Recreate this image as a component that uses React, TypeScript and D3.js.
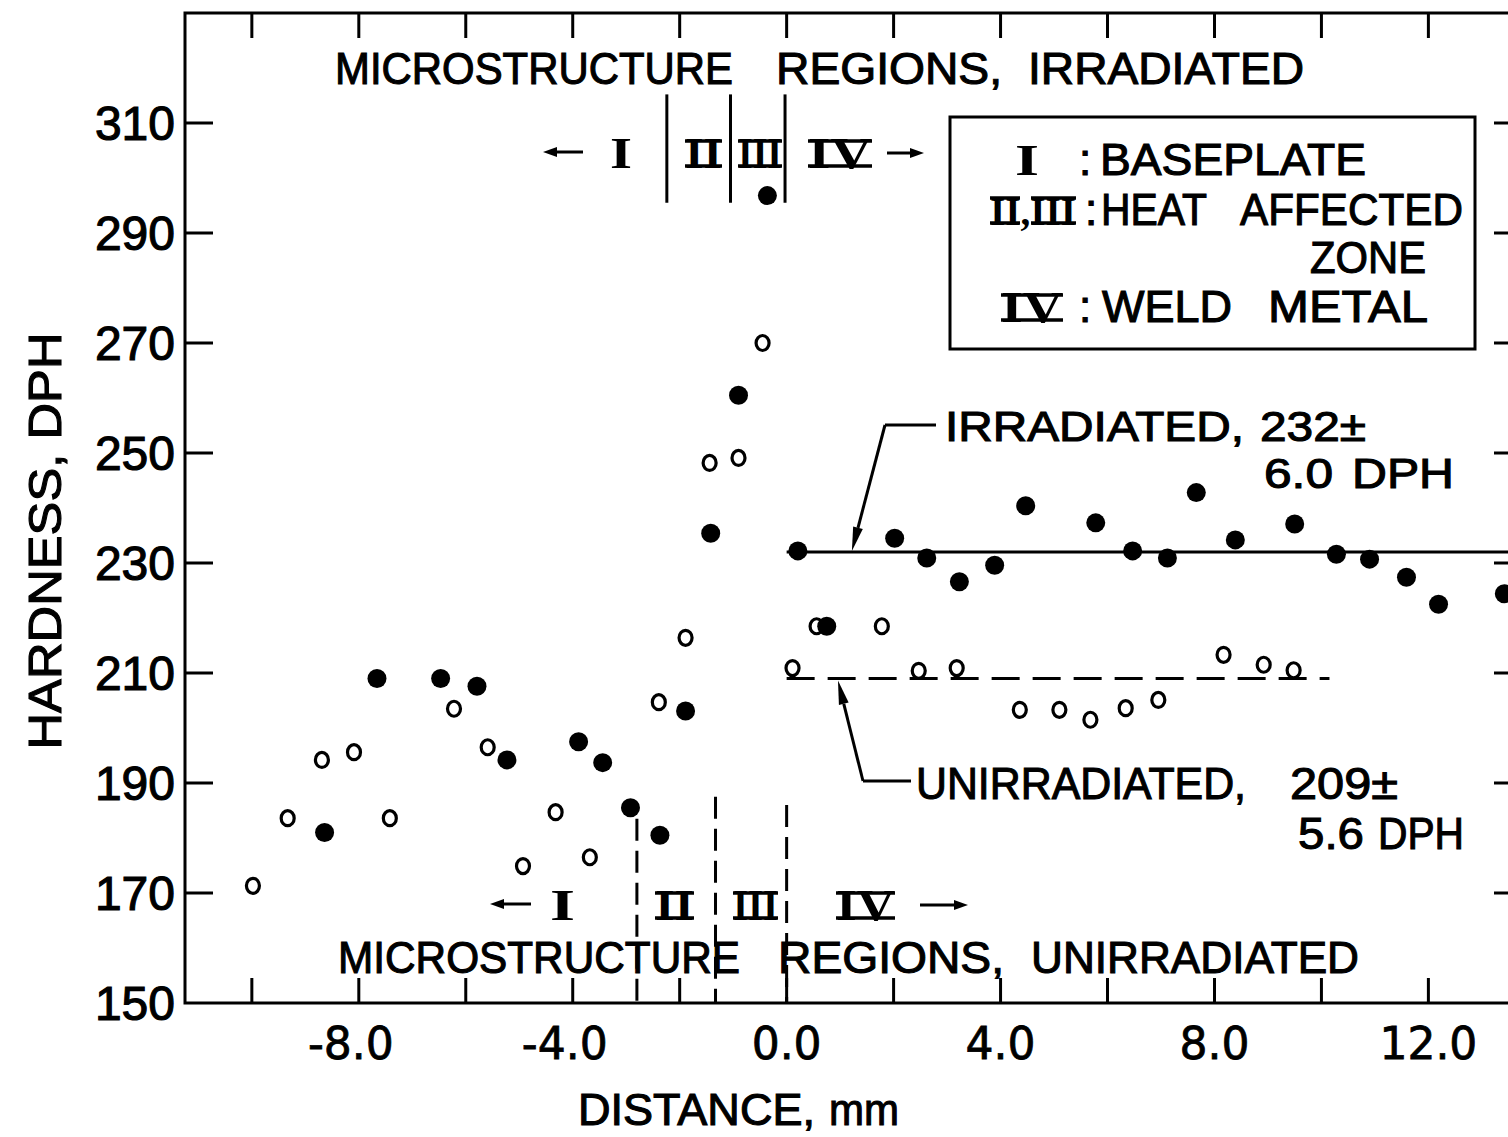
import * as d3 from "d3"

// hardness traverse across the weld, distance in mm from the fusion line
const irradiatedDistance = [
  -8.64, -7.66, -6.47, -5.79, -5.23, -3.89, -3.44, -2.92, -2.37, -1.89, -1.42, -0.9, -0.36, 0.21, 0.75,
  2.02, 2.62, 3.23, 3.89, 4.47, 5.78, 6.47, 7.12, 7.66, 8.39, 9.5, 10.28, 10.9, 11.59, 12.19, 13.42,
]
const irradiatedHardness = [
  181, 209, 209, 207.6, 194.2, 197.5, 193.7, 185.5, 180.5, 203.1, 235.4, 260.5, 296.8, 232.2, 218.5,
  234.5, 230.9, 226.6, 229.6, 240.4, 237.3, 232.2, 230.9, 242.8, 234.2, 237.1, 231.6, 230.7, 227.4, 222.5, 224.4,
]

const unirradiatedDistance = [
  -9.98, -9.33, -8.69, -8.09, -7.42, -6.22, -5.59, -4.93, -4.32, -3.68, -2.39, -1.89, -1.44, -0.9, -0.45,
  0.11, 0.56, 1.78, 2.47, 3.18, 4.36, 5.1, 5.68, 6.34, 6.95, 8.17, 8.92, 9.48,
]
const unirradiatedHardness = [
  171.3, 183.6, 194.2, 195.6, 183.6, 203.5, 196.5, 174.9, 184.7, 176.5, 204.7, 216.4, 248.2, 249.1, 270,
  210.9, 218.5, 218.5, 210.4, 210.9, 203.3, 203.3, 201.5, 203.6, 205.1, 213.3, 211.5, 210.5,
]

const irradiatedMean = 232
const unirradiatedMean = 209
const unirradiatedMeanEnd = 10.15

// microstructure region boundaries (mm)
const irradiatedRegionEdges = [-2.24, -1.05, -0.03]
const irradiatedEdgeSpan = [295.5, 315.2]
const unirradiatedRegionEdges = [-2.8, -1.33, 0]
const unirradiatedEdgeTops = [183.5, 187.5, 186]

const xTicks = [-10, -8, -6, -4, -2, 0, 2, 4, 6, 8, 10, 12, 14]
const xTickLabels = [-8, -4, 0, 4, 8, 12]
const yTicks = [170, 190, 210, 230, 250, 270, 290, 310]
const yTickLabels = [150, 170, 190, 210, 230, 250, 270, 290, 310]

const SANS = "'Liberation Sans', Arial, sans-serif"
const SERIF = "'Liberation Serif', 'DejaVu Serif', serif"
// the original lettering is a bit heavier than a regular face
const heavy = { stroke: "#000", strokeWidth: 1.1, paintOrder: "stroke" as const }

type Span = { text: string; x0: number; x1: number }

function Words({ spans, base, size = 45 }: { spans: Span[]; base: number; size?: number }) {
  return (
    <g fontFamily={SANS} fontSize={size} {...heavy}>
      {spans.map((s) => (
        <text key={s.text + s.x0} x={s.x0} y={base} textLength={s.x1 - s.x0} lengthAdjust="spacingAndGlyphs">
          {s.text}
        </text>
      ))}
    </g>
  )
}

function Bars({ x0, x1, base }: { x0: number; x1: number; base: number }) {
  const cap = 29
  return (
    <g stroke="#000" strokeWidth={3.5}>
      <line x1={x0} x2={x1} y1={base - cap + 2} y2={base - cap + 2} />
      <line x1={x0} x2={x1} y1={base - 2} y2={base - 2} />
    </g>
  )
}

function Roman({ text, x0, x1, base, size = 44 }: { text: string; x0: number; x1: number; base: number; size?: number }) {
  return (
    <g>
      <text
        x={x0}
        y={base}
        textLength={x1 - x0}
        lengthAdjust="spacingAndGlyphs"
        fontFamily={SERIF}
        fontWeight={700}
        fontSize={size}
      >
        {text}
      </text>
      {text.length > 1 && <Bars x0={x0} x1={x1} base={base} />}
    </g>
  )
}

function Arrow({ x1, y1, x2, y2, head = 16, half = 5 }: { x1: number; y1: number; x2: number; y2: number; head?: number; half?: number }) {
  const dx = x2 - x1
  const dy = y2 - y1
  const len = Math.hypot(dx, dy)
  const ux = dx / len
  const uy = dy / len
  const bx = x2 - ux * head
  const by = y2 - uy * head
  const pts = `${x2},${y2} ${bx - uy * half},${by + ux * half} ${bx + uy * half},${by - ux * half}`
  return (
    <g>
      <line x1={x1} y1={y1} x2={bx} y2={by} stroke="#000" strokeWidth={3} />
      <polygon points={pts} fill="#000" />
    </g>
  )
}

export default function App() {
  const width = 1508
  const height = 1137

  const x = d3.scaleLinear().domain([-11.25, 13.9]).range([185, 1530])
  const y = d3.scaleLinear().domain([150, 330]).range([1003, 13])

  const [left, right] = x.range()
  const [bottom, top] = y.range()

  const irradiated = irradiatedDistance.map((d, i) => ({ d, h: irradiatedHardness[i] }))
  const unirradiated = unirradiatedDistance.map((d, i) => ({ d, h: unirradiatedHardness[i] }))

  const xLabel = (v: number) => v.toFixed(1)

  return (
    <div style={{ position: "absolute", left: 0, top: 0 }}>
      <svg width={width} height={height} style={{ display: "block", background: "#fff" }}>
        <rect width={width} height={height} fill="#fff" />

        {/* frame */}
        <rect x={left} y={top} width={right - left} height={bottom - top} fill="none" stroke="#000" strokeWidth={3} />

        {/* ticks */}
        <g stroke="#000" strokeWidth={3}>
          {xTicks.map((t) => (
            <g key={"xt" + t}>
              <line x1={x(t)} x2={x(t)} y1={top} y2={top + 25} />
              <line x1={x(t)} x2={x(t)} y1={bottom} y2={bottom - 25} />
            </g>
          ))}
          {yTicks.map((t) => (
            <g key={"yt" + t}>
              <line x1={left} x2={left + 28} y1={y(t)} y2={y(t)} />
              <line x1={right} x2={right - 36} y1={y(t)} y2={y(t)} />
            </g>
          ))}
        </g>

        {/* tick labels */}
        <g fontFamily={SANS} fontSize={48} {...heavy}>
          {yTickLabels.map((t) => (
            <text key={"yl" + t} x={left - 10} y={y(t)} dy="0.36em" textAnchor="end">
              {t}
            </text>
          ))}
        </g>
        <g fontFamily="'DejaVu Sans', sans-serif" fontSize={44} {...heavy} strokeWidth={0.8}>
          {xTickLabels.map((t) => (
            <text key={"xl" + t} x={x(t) + (t < 0 ? 35 : 0)} y={1059} textAnchor={t < 0 ? "end" : "middle"}>
              {xLabel(t)}
            </text>
          ))}
        </g>

        {/* axis titles */}
        <Words base={1125} spans={[{ text: "DISTANCE,", x0: 578, x1: 815 }, { text: "mm", x0: 829, x1: 899 }]} />
        <text
          transform="translate(61, 541) rotate(-90)"
          textAnchor="middle"
          fontFamily={SANS}
          fontSize={47}
          textLength={417}
          lengthAdjust="spacingAndGlyphs"
          {...heavy}
        >
          HARDNESS, DPH
        </text>

        {/* mean lines */}
        <line x1={x(0)} x2={right} y1={y(irradiatedMean)} y2={y(irradiatedMean)} stroke="#000" strokeWidth={3} />
        <line
          x1={x(0)}
          x2={x(unirradiatedMeanEnd)}
          y1={y(unirradiatedMean)}
          y2={y(unirradiatedMean)}
          stroke="#000"
          strokeWidth={3}
          strokeDasharray="28 13"
        />

        {/* region boundaries */}
        <g stroke="#000" strokeWidth={3}>
          {irradiatedRegionEdges.map((e) => (
            <line key={"ie" + e} x1={x(e)} x2={x(e)} y1={y(irradiatedEdgeSpan[1])} y2={y(irradiatedEdgeSpan[0])} />
          ))}
          {unirradiatedRegionEdges.map((e, i) => (
            <line
              key={"ue" + e}
              x1={x(e)}
              x2={x(e)}
              y1={y(unirradiatedEdgeTops[i])}
              y2={bottom}
              strokeDasharray="22 10"
            />
          ))}
        </g>

        {/* titles */}
        <Words
          base={84}
          spans={[
            { text: "MICROSTRUCTURE", x0: 335, x1: 733 },
            { text: "REGIONS,", x0: 776, x1: 1002 },
            { text: "IRRADIATED", x0: 1028, x1: 1304 },
          ]}
        />
        <Words
          base={973}
          spans={[
            { text: "MICROSTRUCTURE", x0: 338, x1: 740 },
            { text: "REGIONS,", x0: 778, x1: 1004 },
            { text: "UNIRRADIATED", x0: 1031, x1: 1359 },
          ]}
        />

        {/* region numerals, irradiated */}
        <Arrow x1={583} y1={152} x2={543} y2={152} head={14} half={5} />
        <Roman text="I" x0={610} x1={632} base={168} />
        <Roman text="II" x0={685} x1={722} base={168} />
        <Roman text="III" x0={738} x1={782} base={168} />
        <Roman text="IV" x0={808} x1={872} base={168} />
        <Arrow x1={887} y1={153} x2={924} y2={153} head={14} half={5} />

        {/* region numerals, unirradiated */}
        <Arrow x1={531} y1={904} x2={490} y2={904} head={14} half={5} />
        <Roman text="I" x0={550} x1={575} base={920} />
        <Roman text="II" x0={655} x1={694} base={920} />
        <Roman text="III" x0={733} x1={778} base={920} />
        <Roman text="IV" x0={836} x1={895} base={920} />
        <Arrow x1={920} y1={905} x2={968} y2={905} head={14} half={5} />

        {/* legend */}
        <rect x={950} y={117} width={525} height={232} fill="#fff" stroke="#000" strokeWidth={3} />
        <Roman text="I" x0={1015} x1={1039} base={175} />
        <text
          x={990}
          y={225}
          textLength={86}
          lengthAdjust="spacingAndGlyphs"
          fontFamily={SERIF}
          fontWeight={700}
          fontSize={41}
        >
          II,III
        </text>
        <Bars x0={990} x1={1020} base={225} />
        <Bars x0={1031} x1={1076} base={225} />
        <Roman text="IV" x0={1001} x1={1063} base={322} />
        <g fontFamily={SANS} fontSize={44} {...heavy}>
          <text x={1079} y={175}>:</text>
          <text x={1085} y={225}>:</text>
          <text x={1079} y={322}>:</text>
        </g>
        <Words base={175} spans={[{ text: "BASEPLATE", x0: 1100, x1: 1366 }]} />
        <Words
          base={225}
          spans={[
            { text: "HEAT", x0: 1101, x1: 1207 },
            { text: "AFFECTED", x0: 1240, x1: 1463 },
          ]}
        />
        <Words base={273} spans={[{ text: "ZONE", x0: 1310, x1: 1426 }]} />
        <Words
          base={322}
          spans={[
            { text: "WELD", x0: 1102, x1: 1232 },
            { text: "METAL", x0: 1268, x1: 1428 },
          ]}
        />

        {/* mean annotations */}
        <Words
          base={441}
          size={43}
          spans={[
            { text: "IRRADIATED,", x0: 945, x1: 1244 },
            { text: "232±", x0: 1260, x1: 1366 },
          ]}
        />
        <Words
          base={488}
          size={43}
          spans={[
            { text: "6.0", x0: 1264, x1: 1333 },
            { text: "DPH", x0: 1352, x1: 1454 },
          ]}
        />
        <polyline points="936,425 885,425" fill="none" stroke="#000" strokeWidth={3} />
        <Arrow x1={885} y1={425} x2={x(1.22)} y2={y(irradiatedMean) - 1} head={24} half={5} />

        <Words
          base={799}
          spans={[
            { text: "UNIRRADIATED,", x0: 916, x1: 1246 },
            { text: "209±", x0: 1290, x1: 1398 },
          ]}
        />
        <Words
          base={849}
          spans={[
            { text: "5.6", x0: 1298, x1: 1364 },
            { text: "DPH", x0: 1378, x1: 1464 },
          ]}
        />
        <polyline points="911,781 863,781" fill="none" stroke="#000" strokeWidth={3} />
        <Arrow x1={863} y1={781} x2={x(0.96)} y2={y(unirradiatedMean) + 2} head={24} half={5} />

        {/* data */}
        <g fill="none" stroke="#000" strokeWidth={3.2}>
          {unirradiated.map((p, i) => (
            <ellipse key={"u" + i} cx={x(p.d)} cy={y(p.h)} rx={6.5} ry={7.5} />
          ))}
        </g>
        <g fill="#000">
          {irradiated.map((p, i) => (
            <circle key={"r" + i} cx={x(p.d)} cy={y(p.h)} r={9.5} />
          ))}
        </g>
      </svg>
    </div>
  )
}
